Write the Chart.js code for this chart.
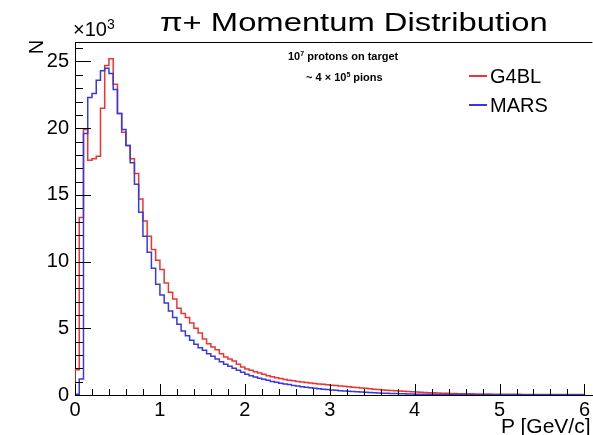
<!DOCTYPE html>
<html>
<head>
<meta charset="utf-8">
<script src="https://cdn.jsdelivr.net/npm/chart.js@4.4.1/dist/chart.umd.min.js"></script>
<style>
  html, body { margin: 0; padding: 0; background: #fff; overflow: hidden; }
  #wrap { position: relative; width: 593px; height: 435px; overflow: hidden; font-family: "Liberation Sans", Arial, Helvetica, sans-serif; color: #000; }
  #wrap canvas { position: absolute; left: 0; top: 0; }
  .txt { position: absolute; white-space: nowrap; line-height: 1; }
  #title { left: 160px; top: 10px; font-size: 25px; transform-origin: 0 0; }
  #exp { left: 73px; top: 19px; font-size: 20px; }
  #exp sup { font-size: 14px; vertical-align: 0; position: relative; top: -7px; }
  #ylab { left: 29px; top: 37px; font-size: 20px; transform: rotate(-90deg); transform-origin: 50% 50%; }
  #xlab { left: 501px; top: 415px; font-size: 21px; }
  .note { font-weight: bold; font-size: 11px; }
  .note sup { font-size: 7px; vertical-align: 0; position: relative; top: -4px; }
  #note1 { left: 288px; top: 51px; }
  #note2 { left: 306px; top: 72px; }
  .leg { font-size: 20px; left: 469px; }
  .leg i { display: inline-block; width: 18px; height: 0; border-top: 2px solid; vertical-align: middle; margin-right: 3px; position: relative; top: -2px; }
  #leg1 { top: 66px; }
  #leg2 { top: 95px; }
</style>
</head>
<body>
<div id="wrap">
  <canvas id="c" width="593" height="435"></canvas>
  <div class="txt" id="title">&pi;+ Momentum Distribution</div>
  <div class="txt" id="exp">&times;10<sup>3</sup></div>
  <div class="txt" id="ylab">N</div>
  <div class="txt" id="xlab">P [GeV/c]</div>
  <div class="txt note" id="note1">10<sup>7</sup> protons on target</div>
  <div class="txt note" id="note2">~ 4 &times; 10<sup>5</sup> pions</div>
  <div class="txt leg" id="leg1"><i style="color:#ee3333"></i>G4BL</div>
  <div class="txt leg" id="leg2"><i style="color:#3838e0"></i>MARS</div>
</div>
<script>
/* ============ DATA (counts in units of 10^3, 0.05 GeV/c bins from 0) ============ */
const binLow = 0;
const binWidth = 0.05;

const g4blCounts = [
  1.9, 13.3, 19.9, 17.6, 17.7, 17.9, 21.5, 24.7, 25.2, 23.3,
  21.1, 19.7, 18.7, 17.7, 16.6, 14.7, 13.05, 11.9, 10.9, 10.1,
  9.4, 8.4, 7.7, 7.2, 6.5, 6.1, 5.8, 5.4, 5.0, 4.65,
  4.2, 3.85, 3.6, 3.4, 3.1, 2.85, 2.7, 2.55, 2.3, 2.1,
  1.95, 1.85, 1.75, 1.65, 1.55, 1.45, 1.37, 1.3, 1.23, 1.17,
  1.1, 1.06, 1.02, 0.97, 0.93, 0.9, 0.86, 0.83, 0.8, 0.77,
  0.74, 0.71, 0.68, 0.65, 0.62, 0.59, 0.56, 0.53, 0.5, 0.47,
  0.44, 0.41, 0.38, 0.36, 0.34, 0.32, 0.3, 0.28, 0.26, 0.24,
  0.22, 0.2, 0.18, 0.17, 0.16, 0.15, 0.14, 0.13, 0.12, 0.11,
  0.1, 0.1, 0.09, 0.09, 0.08, 0.08, 0.07, 0.07, 0.06, 0.06,
  0.06, 0.05, 0.05, 0.05, 0.05, 0.04, 0.04, 0.04, 0.04, 0.04,
  0.03, 0.03, 0.03, 0.03, 0.03, 0.03, 0.03, 0.03, 0.03, 0.03
];

const marsCounts = [
  0.05, 1.2, 19.6, 22.3, 22.6, 23.6, 24.3, 24.5, 24.1, 22.9,
  21.1, 19.9, 18.7, 17.4, 15.8, 13.7, 11.9, 10.7, 9.5, 8.3,
  7.5, 6.9, 6.3, 5.8, 5.3, 4.8, 4.45, 4.1, 3.8, 3.55,
  3.35, 3.1, 2.9, 2.7, 2.5, 2.3, 2.15, 2.0, 1.85, 1.7,
  1.55, 1.45, 1.35, 1.26, 1.18, 1.1, 1.02, 0.95, 0.89, 0.83,
  0.78, 0.72, 0.67, 0.62, 0.58, 0.54, 0.5, 0.47, 0.44, 0.41,
  0.38, 0.35, 0.32, 0.3, 0.28, 0.26, 0.24, 0.22, 0.2, 0.18,
  0.17, 0.15, 0.14, 0.13, 0.12, 0.11, 0.1, 0.09, 0.08, 0.07,
  0.06, 0.06, 0.05, 0.05, 0.05, 0.04, 0.04, 0.04, 0.03, 0.03,
  0.03, 0.03, 0.02, 0.02, 0.02, 0.02, 0.02, 0.02, 0.01, 0.01,
  0.01, 0.01, 0.01, 0.01, 0.01, 0.01, 0.01, 0.01, 0.01, 0.01,
  0.01, 0.01, 0.01, 0.01, 0.01, 0.01, 0.01, 0.01, 0.01, 0.01
];

const xTicks = [0, 1, 2, 3, 4, 5, 6];
const yTicks = [0, 5, 10, 15, 20, 25];

/* ============ HELPERS ============ */
const FONT = '"Liberation Sans", Arial, Helvetica, sans-serif';
const X_MAX = 6.094;
const Y_MAX = 26.46;

// histogram outline: rise from 0 at the low edge, one point per bin low edge, close at the high edge
const toHist = counts => {
  const pts = [{ x: binLow, y: 0 }];
  counts.forEach((v, i) => pts.push({ x: binLow + i * binWidth, y: v }));
  pts.push({ x: binLow + counts.length * binWidth, y: counts[counts.length - 1] });
  return pts;
};

// ROOT-style inward ticks + top frame line
const rootFrame = {
  id: 'rootFrame',
  afterDatasetsDraw(chart) {
    const { ctx, chartArea: a, scales: { x, y } } = chart;
    ctx.save();
    ctx.strokeStyle = '#000';
    ctx.lineWidth = 1;
    ctx.beginPath();
    ctx.moveTo(a.left, a.top + 0.5);
    ctx.lineTo(a.right, a.top + 0.5);
    for (let v = 0; v <= Y_MAX; v += 1) {
      const py = Math.round(y.getPixelForValue(v)) + 0.5;
      const len = v % 5 === 0 ? 16 : 8;
      ctx.moveTo(a.left, py);
      ctx.lineTo(a.left + len, py);
    }
    for (let i = 0; i * 0.2 <= X_MAX; i++) {
      const px = Math.round(x.getPixelForValue(i * 0.2)) + 0.5;
      const len = i % 5 === 0 ? 11 : 6;
      ctx.moveTo(px, a.bottom);
      ctx.lineTo(px, a.bottom - len);
    }
    ctx.stroke();
    ctx.restore();
  }
};

/* ============ CHART ============ */
new Chart(document.getElementById('c'), {
  type: 'line',
  data: {
    datasets: [
      {
        label: 'G4BL',
        data: toHist(g4blCounts),
        borderColor: '#ee3333',
        borderWidth: 1.5,
        stepped: true,
        pointRadius: 0,
        fill: false,
        order: 2
      },
      {
        label: 'MARS',
        data: toHist(marsCounts),
        borderColor: '#3838e0',
        borderWidth: 1.5,
        stepped: true,
        pointRadius: 0,
        fill: false,
        order: 1
      }
    ]
  },
  options: {
    responsive: false,
    animation: false,
    layout: { padding: { top: 42, right: 0, bottom: 0, left: 0 } },
    plugins: { legend: { display: false }, tooltip: { enabled: false } },
    scales: {
      x: {
        type: 'linear',
        min: 0, max: X_MAX,
        afterFit: s => { s.height = 40; },
        afterBuildTicks: s => { s.ticks = xTicks.map(v => ({ value: v })); },
        grid: { display: false, drawTicks: false },
        border: { display: true, color: '#000', width: 1 },
        ticks: { color: '#000', font: { family: FONT, size: 20 }, padding: 3, maxRotation: 0, autoSkip: false }
      },
      y: {
        min: 0, max: Y_MAX,
        afterFit: s => { s.width = 75; },
        afterBuildTicks: s => { s.ticks = yTicks.map(v => ({ value: v })); },
        grid: { display: false, drawTicks: false },
        border: { display: true, color: '#000', width: 1 },
        ticks: { color: '#000', font: { family: FONT, size: 20 }, padding: 6 }
      }
    }
  },
  plugins: [rootFrame]
});

// stretch title to the width it has in the reference
const t = document.getElementById('title');
t.style.transform = 'scaleX(' + (388 / t.offsetWidth) + ')';
</script>
</body>
</html>
